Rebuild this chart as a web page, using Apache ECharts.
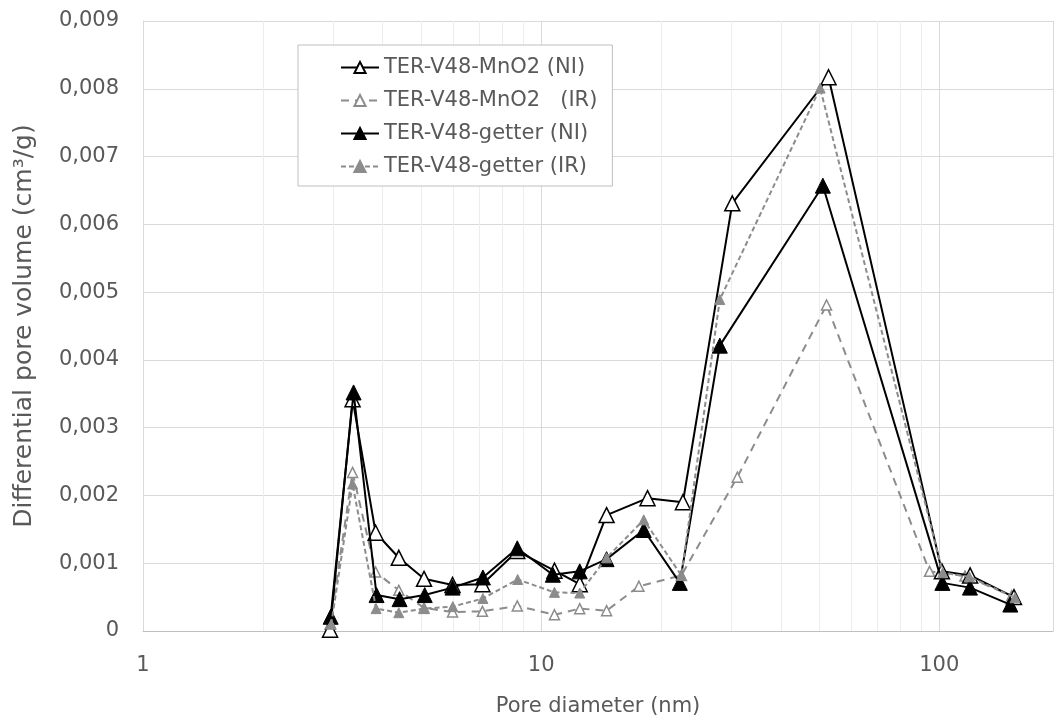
<!DOCTYPE html>
<html>
<head>
<meta charset="utf-8">
<title>Differential pore volume</title>
<script src="https://cdn.jsdelivr.net/npm/echarts@6/dist/echarts.min.js"></script>
<style>
  html, body { margin: 0; padding: 0; background: #fff; }
  #chart { width: 1056px; height: 722px; }
</style>
</head>
<body>
<div id="chart"></div>
<script>
// Pore diameter (nm) and differential pore volume (cm3/g) per sample
const mno2NiX = [2.95, 3.36, 3.84, 4.39, 5.08, 5.99, 7.12, 8.71, 10.8, 12.5, 14.6, 18.5, 22.7, 30.2, 52.7, 101.5, 119.5, 154];
const mno2NiY = [0.00002, 0.00342, 0.00145, 0.00108, 0.00077, 0.00068, 0.00069, 0.00118, 0.00089, 0.00069, 0.00171, 0.00196, 0.00190, 0.00631, 0.00817, 0.00088, 0.00082, 0.00050];

const mno2IrX = [2.95, 3.36, 3.84, 4.39, 5.08, 5.99, 7.12, 8.71, 10.8, 12.5, 14.6, 17.6, 22.5, 31.1, 52.1, 94.5, 116, 152];
const mno2IrY = [0.00010, 0.00234, 0.00087, 0.00060, 0.00034, 0.00028, 0.00029, 0.00037, 0.00024, 0.00033, 0.00030, 0.00066, 0.00082, 0.00227, 0.00481, 0.00088, 0.00081, 0.00052];

const getterNiX = [2.96, 3.38, 3.86, 4.41, 5.10, 5.99, 7.14, 8.71, 10.7, 12.5, 14.6, 18.1, 22.3, 28.1, 51.0, 101.8, 119.4, 150.8];
const getterNiY = [0.00021, 0.00352, 0.00053, 0.00047, 0.00053, 0.00064, 0.00079, 0.00122, 0.00083, 0.00088, 0.00106, 0.00149, 0.00071, 0.00421, 0.00657, 0.00071, 0.00064, 0.00039];

const getterIrX = [2.97, 3.36, 3.85, 4.39, 5.08, 6.00, 7.14, 8.73, 10.8, 12.5, 14.6, 18.1, 22.5, 28.1, 50.2, 102, 119, 155];
const getterIrY = [0.00010, 0.00217, 0.00033, 0.00027, 0.00033, 0.00036, 0.00048, 0.00076, 0.00057, 0.00056, 0.00108, 0.00164, 0.00082, 0.00489, 0.00801, 0.00086, 0.00080, 0.00049];

const seriesNames = ['TER-V48-MnO2 (NI)', 'TER-V48-MnO2   (IR)', 'TER-V48-getter (NI)', 'TER-V48-getter (IR)'];

// Minor log gridlines between the decades
const minorTicks = [2, 3, 4, 5, 6, 7, 8, 9, 20, 30, 40, 50, 60, 70, 80, 90];

const xMin = 1, xMax = 193;
const yMin = 0, yMax = 0.009, yStep = 0.001;

const FONT = 'DejaVu Sans';
const TEXT = '#595959';

function pairs(xs, ys) { return xs.map((x, i) => [x, ys[i]]); }

const chart = echarts.init(document.getElementById('chart'), null, { renderer: 'canvas' });

chart.setOption({
  animation: false,
  backgroundColor: '#ffffff',
  textStyle: { fontFamily: FONT },
  grid: { left: 143, top: 21, right: 0, bottom: 91, containLabel: false },
  legend: {
    data: seriesNames,
    orient: 'vertical',
    left: 298,
    top: 45,
    z: 20,
    padding: [12, 15, 9, 42],
    itemWidth: 38,
    itemHeight: 14,
    itemGap: 12,
    backgroundColor: '#ffffff',
    borderColor: '#bfbfbf',
    borderWidth: 1,
    borderRadius: 0,
    textStyle: { fontFamily: FONT, fontSize: 21, color: TEXT }
  },
  xAxis: {
    type: 'log',
    logBase: 10,
    min: xMin,
    max: xMax,
    name: 'Pore diameter (nm)',
    nameLocation: 'middle',
    nameGap: 65,
    nameTextStyle: { fontFamily: FONT, fontSize: 21, color: TEXT },
    axisLine: { show: true, lineStyle: { color: '#bfbfbf', width: 1 } },
    axisTick: { show: false },
    axisLabel: {
      fontFamily: FONT, fontSize: 21, color: TEXT, margin: 24,
      formatter: function (v) {
        const l = Math.log10(v);
        return Math.abs(l - Math.round(l)) < 1e-6 ? String(Math.round(v)) : '';
      }
    },
    splitLine: { show: true, lineStyle: { color: '#d9d9d9', width: 1 } }
  },
  yAxis: {
    type: 'value',
    min: yMin,
    max: yMax,
    interval: yStep,
    name: 'Differential pore volume (cm³/g)',
    nameLocation: 'middle',
    nameGap: 106,
    nameTextStyle: { fontFamily: FONT, fontSize: 25, color: TEXT },
    axisLine: { show: true, lineStyle: { color: '#d9d9d9', width: 1 } },
    axisTick: { show: false },
    axisLabel: {
      fontFamily: FONT, fontSize: 21, color: TEXT, margin: 24,
      formatter: function (v) {
        return v === 0 ? '0' : v.toFixed(3).replace('.', ',');
      }
    },
    splitLine: { show: true, lineStyle: { color: '#d9d9d9', width: 1 } }
  },
  series: [
    {
      name: 'minor-grid',
      type: 'line',
      data: [],
      silent: true,
      z: 0,
      markLine: {
        silent: true,
        z: 0,
        symbol: 'none',
        animation: false,
        label: { show: false },
        lineStyle: { color: '#ededed', width: 1, type: 'solid' },
        emphasis: { disabled: true },
        data: minorTicks.map(v => ({ xAxis: v }))
      }
    },
    {
      name: seriesNames[0],
      type: 'line',
      data: pairs(mno2NiX, mno2NiY),
      symbol: 'triangle',
      symbolSize: 15,
      lineStyle: { color: '#000000', width: 2 },
      itemStyle: { color: '#ffffff', borderColor: '#000000', borderWidth: 1.5 },
      z: 3
    },
    {
      name: seriesNames[1],
      type: 'line',
      data: pairs(mno2IrX, mno2IrY),
      symbol: 'triangle',
      symbolSize: 10,
      lineStyle: { color: '#8c8c8c', width: 2, type: [8, 6] },
      itemStyle: { color: '#ffffff', borderColor: '#8c8c8c', borderWidth: 1.5 },
      z: 2
    },
    {
      name: seriesNames[2],
      type: 'line',
      data: pairs(getterNiX, getterNiY),
      symbol: 'triangle',
      symbolSize: 15,
      lineStyle: { color: '#000000', width: 2 },
      itemStyle: { color: '#000000', borderColor: '#000000', borderWidth: 1 },
      z: 4
    },
    {
      name: seriesNames[3],
      type: 'line',
      data: pairs(getterIrX, getterIrY),
      symbol: 'triangle',
      symbolSize: 10,
      lineStyle: { color: '#8c8c8c', width: 2, type: [5, 3] },
      itemStyle: { color: '#8c8c8c', borderColor: '#8c8c8c', borderWidth: 1 },
      z: 5
    }
  ]
});
</script>
</body>
</html>
